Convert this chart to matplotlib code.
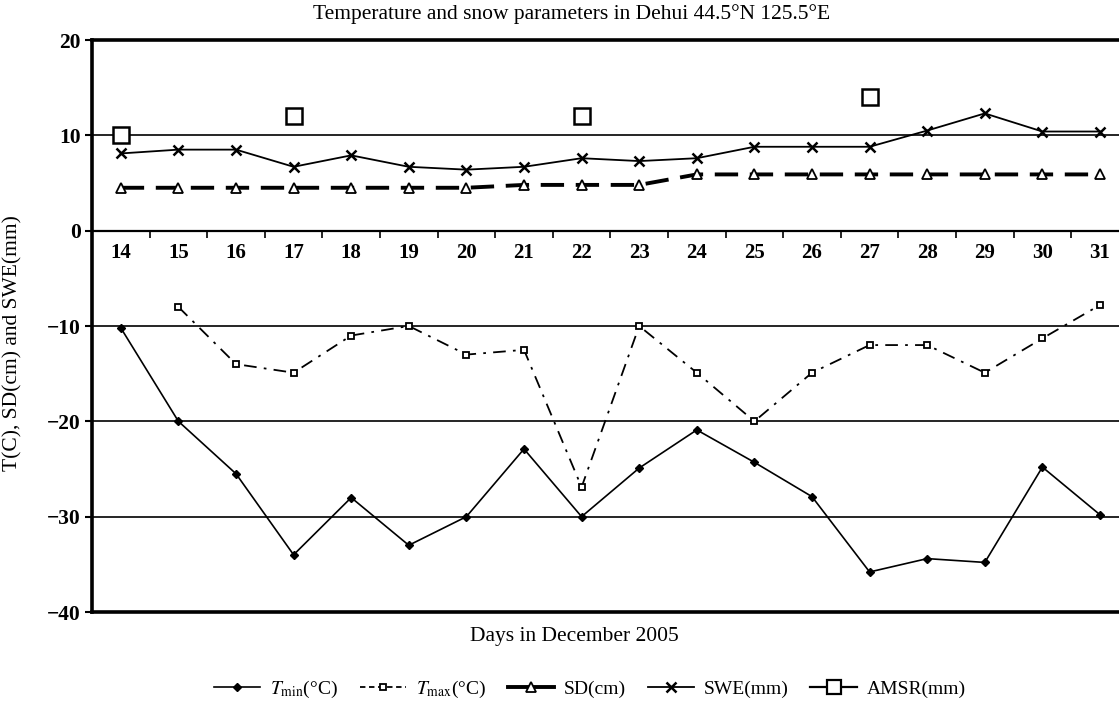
import matplotlib
matplotlib.use("Agg")
import matplotlib.pyplot as plt
from matplotlib.lines import Line2D

plt.rcParams['font.family'] = ['Liberation Serif', 'DejaVu Serif']
plt.rcParams['mathtext.fontset'] = 'stix'

days = list(range(14, 32))
tmin = [-10.2, -20.0, -25.5, -34.0, -28.0, -33.0, -30.0, -22.9, -30.0, -24.9,
        -20.9, -24.3, -27.9, -35.8, -34.4, -34.8, -24.8, -29.8]
tmax_days = list(range(15, 32))
tmax = [-8.0, -14.0, -14.9, -11.0, -10.0, -13.0, -12.5, -26.9, -10.0,
        -14.9, -20.0, -14.9, -12.0, -12.0, -14.9, -11.3, -7.8]
sd = [4.5, 4.5, 4.5, 4.5, 4.5, 4.5, 4.5, 4.8, 4.8, 4.8,
      5.9, 5.9, 5.9, 5.9, 5.9, 5.9, 5.9, 5.9]
swe = [8.1, 8.5, 8.5, 6.7, 7.9, 6.7, 6.4, 6.7, 7.6, 7.3,
       7.6, 8.8, 8.8, 8.8, 10.5, 12.3, 10.4, 10.4]
amsr_days = [14, 17, 22, 27]
amsr = [10, 12, 12, 14]
yticks = [20, 10, 0, -10, -20, -30, -40]

fig = plt.figure(figsize=(11.19, 7.02), dpi=100)
ax = fig.add_axes([92/1119, 1-612/702, 1-92/1119, (612-40)/702])
ax.set_xlim(13.5, 31.33)
ax.set_ylim(-40, 20)

for g in [10, -10, -20, -30]:
    ax.axhline(g, color='black', lw=1.2, zorder=1)
ax.axhline(-40, color='black', lw=2.6, zorder=1, clip_on=False)

ax.spines['right'].set_visible(False)
ax.spines['top'].set_linewidth(2.6)
ax.spines['left'].set_linewidth(2.6)
ax.spines['bottom'].set_position(('data', 0))
ax.spines['bottom'].set_linewidth(1.6)

ax.plot(days, tmin, color='black', lw=1.2, marker='D', ms=4, mfc='black', zorder=3)
ax.plot(tmax_days, tmax, color='black', lw=1.3, ls=(0, (7, 4, 1.5, 4)), marker='s', ms=4.5,
        mfc='white', mew=1.3, zorder=3)
ax.plot(days, sd, color='black', lw=2.8, ls=(0, (6, 3)), marker='^', ms=7,
        mfc='white', mew=1.3, zorder=3)
ax.plot(days, swe, color='black', lw=1.3, marker='x', ms=7, mew=1.8, zorder=3)
ax.plot(amsr_days, amsr, ls='none', marker='s', ms=11, mfc='white', mec='black', mew=1.8,
        zorder=4, clip_on=False)

ax.set_xticks(days)
ax.set_xticks([d + 0.5 for d in days[:-1]], minor=True)
ax.tick_params(axis='x', which='major', length=0, pad=9, labelsize=15)
ax.tick_params(axis='x', which='minor', length=5, width=1.2, direction='out')
for lbl in ax.get_xticklabels():
    lbl.set_fontweight('bold')

ax.set_yticks(yticks)
ax.set_yticklabels([('\u2212' + str(-v)) if v < 0 else str(v) for v in yticks])
ax.tick_params(axis='y', length=5, width=1.5, labelsize=15.5, pad=3)
for lbl in ax.get_yticklabels():
    lbl.set_fontweight('bold')

ax.set_ylabel('T(C), SD(cm) and SWE(mm)', fontsize=15.5, labelpad=8)
ax.yaxis.set_label_coords(-0.068, 0.47)

fig.text(572/1119, 1-14/702, 'Temperature and snow parameters in Dehui 44.5°N 125.5°E',
         ha='center', va='center', fontsize=15.5)
fig.text(574/1119, 1-637/702, 'Days in December 2005', ha='center', va='center',
         fontsize=15.5)

handles = [
    Line2D([], [], color='black', lw=1.2, marker='D', ms=4, mfc='black'),
    Line2D([], [], color='black', lw=1.3, ls=(0, (3, 2)), marker='s', ms=4.5, mfc='white', mew=1.3),
    Line2D([], [], color='black', lw=2.8, marker='^', ms=7, mfc='white', mew=1.3),
    Line2D([], [], color='black', lw=1.3, marker='x', ms=7, mew=1.8),
    Line2D([], [], color='black', lw=1.6, marker='s', ms=10, mfc='white', mew=1.6),
]
labels = [r'$T_{\rm min}$(°C)', r'$T_{\rm max}$(°C)', 'SD(cm)', 'SWE(mm)', 'AMSR(mm)']
fig.legend(handles, labels, loc='center', bbox_to_anchor=(0.527, 1-689/702), ncol=5,
           frameon=False, fontsize=14, handlelength=2.4, columnspacing=1.1, handletextpad=0.5)

fig.savefig('out.png', dpi=100)
